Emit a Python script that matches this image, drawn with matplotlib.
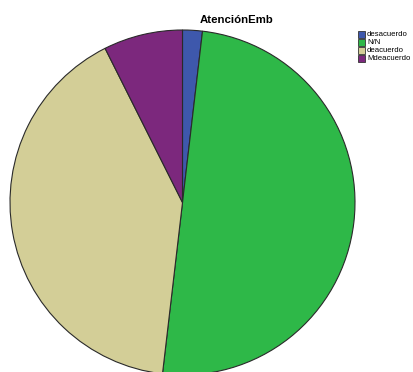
import matplotlib
matplotlib.use("Agg")
import matplotlib.pyplot as plt
from matplotlib.patches import Rectangle

categories = ["desacuerdo", "N/N", "deacuerdo", "Mdeacuerdo"]
counts = [1, 27, 22, 4]
colors = ["#3E58AC", "#2EB848", "#D3CE97", "#7C287D"]
title = "AtenciónEmb"

W, H = 413, 372
fig = plt.figure(figsize=(W / 100, H / 100), dpi=100)
ax = fig.add_axes([0, 0, 1, 1])

cx, cy, r = 182.5, H - 202.5, 172.5
ax.pie(counts, colors=colors, startangle=90, counterclock=False,
       center=(cx, cy), radius=r, frame=True,
       wedgeprops=dict(edgecolor="#2a2a2a", linewidth=0.8))
ax.set_xlim(0, W)
ax.set_ylim(0, H)
ax.set_aspect("equal")
ax.axis("off")

fig.text(200 / W, 1 - 23 / H, title, fontsize=8.2, fontweight="bold",
         family="Liberation Sans", ha="left", va="baseline")

# legend
for i, (lab, col) in enumerate(zip(categories, colors)):
    y_top = 31 + i * 8
    ax.add_patch(Rectangle((358, H - y_top - 6.5), 6.5, 6.5, facecolor=col,
                           edgecolor="#333333", linewidth=0.6, clip_on=False))
    fig.text(367 / W, 1 - (y_top + 3.3) / H, lab, fontsize=5.6,
             family="Liberation Sans", ha="left", va="center")

fig.savefig("out.png", dpi=100)
